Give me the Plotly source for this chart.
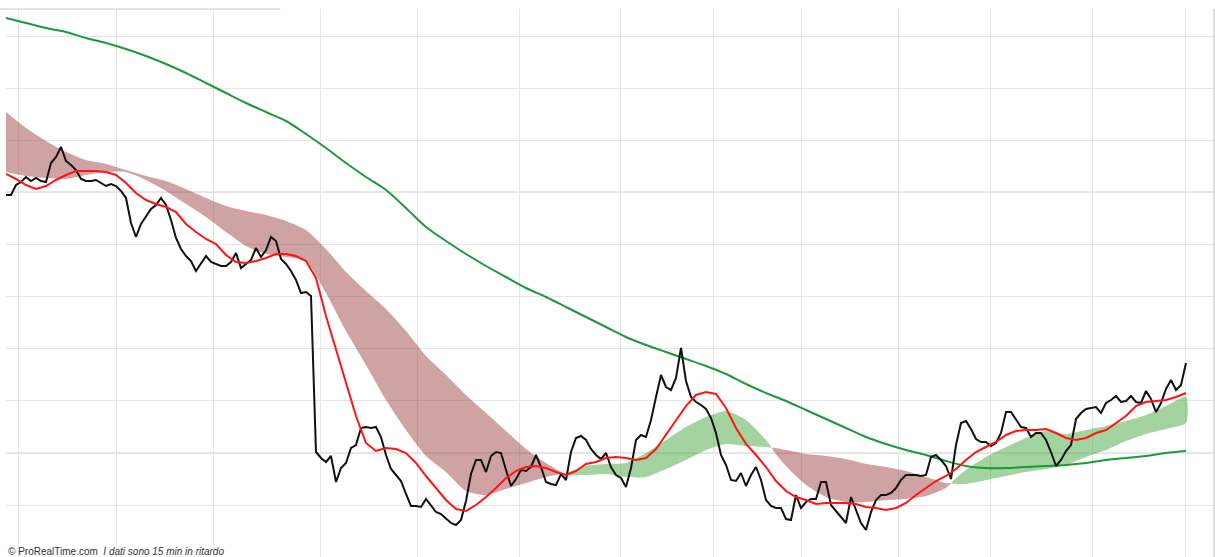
import plotly.graph_objects as go

# ---------------- data ----------------
# price (close) per bar, bars 0..236
price = [40.5, 40.5, 41.5, 41.8, 42.3, 41.9, 42.2, 41.9, 41.8, 43.7,
         44.3, 45.3, 43.9, 43.5, 43.0, 42.1, 41.9, 41.9, 42.0, 41.7,
         41.4, 41.6, 41.4, 40.9, 40.2, 37.7, 36.3, 37.6, 38.3, 39.1,
         39.5, 40.2, 39.5, 38.0, 36.2, 35.1, 34.4, 33.9, 32.9, 33.6,
         34.4, 33.8, 33.6, 33.4, 33.4, 33.8, 34.7, 33.2, 33.6, 34.0,
         35.2, 34.3, 35.0, 36.3, 35.9, 34.1, 33.6, 32.9, 32.0, 30.7,
         30.8, 30.4, 14.8, 14.2, 13.8, 14.4, 11.8, 13.2, 13.7, 15.2,
         15.5, 17.2, 17.3, 17.2, 17.3, 16.3, 14.5, 13.1, 12.5, 11.9,
         10.6, 9.4, 9.4, 9.3, 10.1, 9.4, 8.8, 8.6, 8.1, 7.7,
         7.5, 8.0, 9.9, 12.6, 14.0, 14.0, 12.8, 14.4, 14.8, 14.7,
         13.0, 11.4, 12.1, 13.0, 12.9, 13.3, 14.5, 13.3, 11.8, 11.6,
         11.5, 12.6, 12.0, 14.8, 16.2, 16.4, 16.0, 15.1, 14.5, 14.1,
         14.7, 13.3, 12.5, 12.2, 11.3, 13.2, 16.0, 16.5, 16.3, 18.0,
         20.3, 22.5, 21.3, 21.0, 22.2, 25.2, 21.9, 20.3, 19.8, 19.5,
         19.1, 18.2, 16.7, 14.5, 13.5, 12.0, 11.9, 12.7, 11.4, 12.5,
         13.3, 12.0, 10.0, 9.4, 9.2, 9.2, 8.1, 8.0, 10.5, 9.2,
         9.8, 10.1, 10.1, 11.8, 11.8, 9.5, 8.9, 8.3, 7.7, 10.3,
         9.0, 7.7, 7.0, 8.8, 10.0, 10.5, 10.5, 10.7, 11.2, 12.0,
         12.5, 12.5, 12.5, 12.4, 12.5, 14.3, 14.5, 14.0, 13.4, 12.1,
         15.5, 17.7, 17.9, 17.1, 16.1, 15.8, 15.8, 15.4, 15.7, 16.7,
         18.8, 18.8, 18.1, 17.3, 17.2, 16.3, 16.7, 16.7, 16.0, 14.8,
         13.4, 14.0, 14.9, 15.5, 18.1, 18.7, 19.1, 19.2, 19.3, 18.7,
         19.7, 20.0, 20.4, 19.8, 19.9, 20.4, 19.8, 19.7, 20.9, 20.1,
         18.8, 19.7, 21.1, 22.0, 21.0, 21.5, 23.7]

# short moving average, every 2 bars
ma_short = [42.6, 42.1, 41.5, 41.1, 41.4, 42.0, 42.5, 42.9, 42.9, 42.9,
            42.8, 42.5, 41.7, 40.7, 40.0, 39.6, 39.3, 38.8, 37.6, 36.8,
            36.1, 35.6, 34.5, 33.8, 33.7, 33.9, 34.2, 34.6, 34.6, 34.4,
            33.9, 32.2, 28.4, 25.0, 21.6, 18.4, 15.7, 14.9, 15.2, 15.1,
            14.7, 13.7, 12.4, 11.2, 10.0, 9.1, 8.9, 9.5, 10.3, 11.2,
            12.2, 12.9, 13.3, 13.4, 13.2, 12.8, 12.5, 12.9, 13.6, 13.8,
            14.2, 14.3, 14.2, 14.0, 14.2, 15.1, 16.5, 17.9, 19.4, 20.5,
            20.8, 20.6, 19.2, 17.2, 15.6, 14.5, 13.3, 11.9, 10.9, 10.3,
            10.0, 9.6, 9.7, 9.7, 9.7, 9.6, 9.3, 9.2, 9.0, 9.2,
            9.7, 10.5, 11.2, 11.9, 12.4, 13.1, 14.0, 14.8, 15.3, 15.8,
            16.5, 16.9, 17.0, 17.0, 17.1, 16.7, 16.2, 16.0, 16.2, 16.7,
            17.0, 17.7, 18.4, 19.4, 19.8, 19.9, 20.0, 20.3, 20.7]

# long moving average, every 4 bars
ma_long = [58.2, 57.7, 57.2, 56.8, 56.2, 55.7, 55.1, 54.4, 53.6, 52.7,
           51.7, 50.7, 49.7, 48.8, 47.9, 46.6, 45.2, 43.7, 42.3, 41.0,
           39.2, 37.3, 35.9, 34.6, 33.4, 32.3, 31.2, 30.3, 29.3, 28.3,
           27.3, 26.3, 25.5, 24.8, 24.1, 23.4, 22.6, 21.6, 20.7, 19.9,
           19.0, 18.1, 17.2, 16.3, 15.6, 15.0, 14.5, 13.9, 13.4, 13.2,
           13.2, 13.3, 13.4, 13.5, 13.7, 14.0, 14.2, 14.4, 14.7, 14.9]

# cloud boundaries, every 4 bars
cloud_slow = [48.8, 47.2, 45.9, 44.8, 44.0, 43.6, 43.0, 42.4, 41.9, 41.1,
              40.2, 39.4, 38.9, 38.5, 37.9, 37.0, 35.1, 32.8, 30.9, 29.1,
              26.9, 24.4, 22.5, 20.5, 18.7, 16.9, 15.1, 13.7, 12.5, 12.5,
              12.6, 12.3, 12.3, 13.1, 14.0, 15.0, 15.6, 15.4, 15.3, 15.0,
              14.6, 14.4, 14.1, 13.6, 13.3, 12.9, 12.3, 11.7, 11.6, 12.0,
              12.4, 12.8, 13.1, 13.5, 14.3, 15.0, 15.9, 16.6, 17.1, 17.7]
cloud_fast = [42.8, 42.4, 42.2, 42.1, 42.5, 42.8, 42.8, 42.0, 40.9, 39.6,
              38.3, 36.8, 35.4, 34.6, 34.3, 33.9, 30.7, 26.9, 23.5, 20.0,
              17.0, 14.4, 12.8, 10.9, 10.5, 11.1, 11.7, 12.3, 12.7, 13.4,
              13.6, 13.7, 14.7, 16.0, 17.3, 18.3, 18.9, 18.0, 16.0, 13.4,
              11.5, 10.3, 9.8, 9.8, 10.0, 10.1, 10.4, 11.2, 13.0, 14.3,
              15.3, 16.2, 16.9, 16.6, 17.0, 17.4, 17.9, 18.5, 19.4, 20.3]

# vertical grid positions (bar units) and major horizontal grid levels
vgrid = [2.4, 22, 41.4, 62.8, 82.2, 102.6, 122.8, 141.4, 159, 178.4, 196.8, 217.2, 235.8]
hgrid_major = [14.7, 40.8]

x_price = list(range(len(price)))
x_short = [2 * k for k in range(len(ma_short))]
x_cloud = [4 * k for k in range(len(cloud_slow))]
x_long = [4 * k for k in range(len(ma_long))]

RED_FILL = "rgba(150,55,55,0.46)"
GREEN_FILL = "rgba(55,160,45,0.46)"

fig = go.Figure()

# ---- cloud: split into runs of same sign, interpolate crossings ----
def cloud_segments(xs, a, b):
    segs = []
    cur_x, cur_a, cur_b = [xs[0]], [a[0]], [b[0]]
    sign = a[0] >= b[0]
    for i in range(1, len(xs)):
        s = a[i] >= b[i]
        if s != sign:
            d0 = a[i - 1] - b[i - 1]
            d1 = a[i] - b[i]
            t = d0 / (d0 - d1)
            xc = xs[i - 1] + t * (xs[i] - xs[i - 1])
            yc = a[i - 1] + t * (a[i] - a[i - 1])
            cur_x.append(xc); cur_a.append(yc); cur_b.append(yc)
            segs.append((sign, cur_x, cur_a, cur_b))
            cur_x, cur_a, cur_b = [xc], [yc], [yc]
            sign = s
        cur_x.append(xs[i]); cur_a.append(a[i]); cur_b.append(b[i])
    segs.append((sign, cur_x, cur_a, cur_b))
    return segs

for sgn, sx, sa, sb in cloud_segments(x_cloud, cloud_slow, cloud_fast):
    px = sx + sx[::-1]
    py = sa + sb[::-1]
    fig.add_trace(go.Scatter(x=px, y=py, mode="lines", fill="toself",
                             fillcolor=RED_FILL if sgn else GREEN_FILL,
                             line=dict(width=0, shape="spline", smoothing=0.6),
                             hoverinfo="skip", showlegend=False))

fig.add_trace(go.Scatter(x=x_long, y=ma_long, mode="lines",
                         line=dict(color="#1c9a3a", width=2, shape="spline", smoothing=0.8),
                         showlegend=False))
fig.add_trace(go.Scatter(x=x_price, y=price, mode="lines",
                         line=dict(color="#111111", width=2), showlegend=False))
fig.add_trace(go.Scatter(x=x_short, y=ma_short, mode="lines",
                         line=dict(color="#ff1414", width=2), showlegend=False))

shapes = []
for yv in hgrid_major:
    shapes.append(dict(type="line", xref="paper", x0=0, x1=1, yref="y", y0=yv, y1=yv,
                       line=dict(color="#cfcfcf", width=1), layer="below"))
shapes.append(dict(type="line", xref="paper", x0=-0.005, x1=0.227, yref="paper", y0=1, y1=1,
                   line=dict(color="#cccccc", width=1)))
shapes.append(dict(type="line", xref="paper", x0=1, x1=1, yref="paper", y0=0, y1=1,
                   line=dict(color="#b8b8b8", width=1)))

fig.update_layout(
    width=1215, height=557,
    margin=dict(l=6, r=1, t=9, b=0),
    paper_bgcolor="white", plot_bgcolor="white",
    showlegend=False,
    shapes=shapes,
    xaxis=dict(range=[0, 241.6], tickmode="array", tickvals=vgrid,
               showticklabels=False, showgrid=True, gridcolor="#e6e6e6", gridwidth=1,
               zeroline=False, showline=False, ticks=""),
    yaxis=dict(range=[4.3, 59.1], tick0=14.7, dtick=5.21,
               showticklabels=False, showgrid=True, gridcolor="#e6e6e6", gridwidth=1,
               zeroline=False, showline=False, ticks=""),
    annotations=[dict(xref="paper", yref="paper", x=0, y=0, xanchor="left", yanchor="bottom",
                      yshift=-2, xshift=0, showarrow=False,
                      text="© ProRealTime.com  <i>I dati sono 15 min in ritardo</i>",
                      font=dict(family="Liberation Sans, Arial", size=10, color="#333333"))],
)

fig.write_html("out.html", config={"displayModeBar": False},
               post_script="document.body.style.margin='0';document.body.style.overflow='hidden';")
